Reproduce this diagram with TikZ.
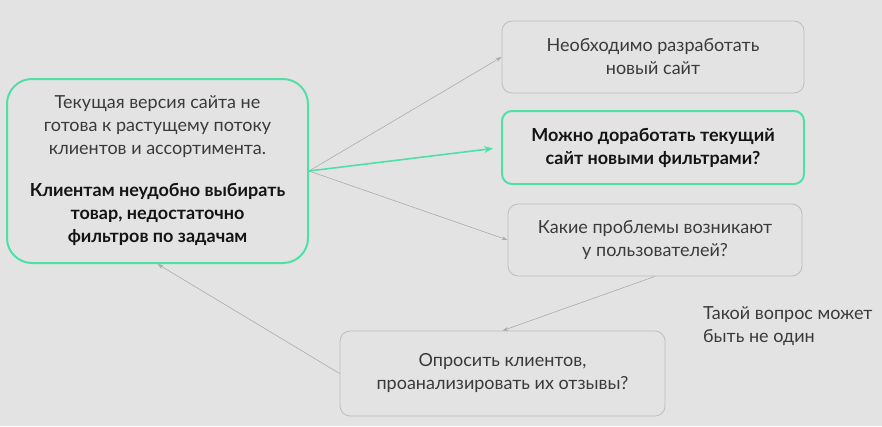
\documentclass[tikz,border=0pt]{standalone}
\usepackage{fontspec}
\setmainfont{Lato}
\usetikzlibrary{arrows.meta}
\definecolor{bg}{HTML}{E3E3E3}
\definecolor{mint}{HTML}{4FE0A8}
\definecolor{boxgray}{HTML}{BDBDBD}
\definecolor{linegray}{HTML}{ABABAB}
\definecolor{txt}{HTML}{3A3A3A}
\definecolor{txtb}{HTML}{141414}
\tikzset{
  box/.style={draw=boxgray, line width=0.8pt, rounded corners=10pt, align=center, inner sep=0pt, text=txt, font=\fontsize{18}{23}\selectfont},
  greenbox/.style={draw=mint, line width=2pt, rounded corners=10pt, align=center, inner sep=0pt, text=txtb, font=\fontsize{18}{23}\selectfont\bfseries},
  conn/.style={draw=linegray, line width=0.6pt, -{Stealth[length=6pt,width=4pt]}},
  gconn/.style={draw=mint, line width=1.6pt, -{Stealth[length=9pt,width=7pt]}},
}
\begin{document}
\begin{tikzpicture}[x=1pt,y=-1pt]
\useasboundingbox[fill=bg] (0,0) rectangle (882,426);
\node[box, draw=mint, line width=2pt, rounded corners=25pt, minimum width=301pt, minimum height=184pt] (main) at (157.5,171)
  {Текущая версия сайта не\\готова к растущему потоку\\клиентов и ассортимента.\\[19pt]
   \textcolor{txtb}{\bfseries Клиентам неудобно выбирать}\\\textcolor{txtb}{\bfseries товар, недостаточно}\\\textcolor{txtb}{\bfseries фильтров по задачам}};
\node[box, minimum width=302pt, minimum height=72pt] (n1) at (653,57) {Необходимо разработать\\новый сайт};
\node[greenbox, minimum width=302pt, minimum height=73pt] (n2) at (653,147.5) {Можно доработать текущий\\сайт новыми фильтрами?};
\node[box, minimum width=294pt, minimum height=72pt] (n3) at (655,240) {Какие проблемы возникают\\у пользователей?};
\node[box, minimum width=325pt, minimum height=85pt] (n4) at (502.5,373.5) {Опросить клиентов,\\проанализировать их отзывы?};
\node[anchor=north west, align=left, inner sep=0pt, text=txt, font=\fontsize{18}{23}\selectfont] (note) at (703,306) {Такой вопрос может\\быть не один};
\draw[conn] (main.east) -- (n1.west);
\draw[gconn, shorten >=8pt] (main.east) -- (n2.west);
\draw[conn] (main.east) -- (n3.west);
\draw[conn] (n3.south) -- (n4.north);
\draw[conn] (n4.west) -- (main.south);
\end{tikzpicture}
\end{document}
